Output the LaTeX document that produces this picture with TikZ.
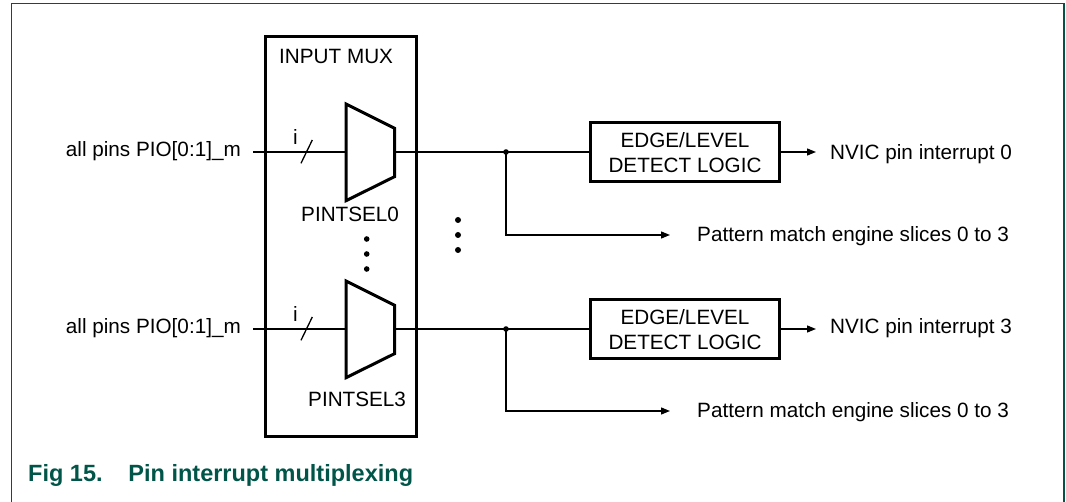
\documentclass[tikz,border=0pt]{standalone}
\usepackage{fontspec}
\setmainfont{Liberation Sans}
\usetikzlibrary{arrows.meta}
\definecolor{nxpgreen}{RGB}{0,85,72}
\tikzset{
  conn/.style={line width=1.3pt, draw=black},
  thick box/.style={line width=3pt, draw=black},
  edgebox/.style={draw=black, line width=3pt, minimum width=189pt, minimum height=59pt,
    inner sep=0pt, align=center, font=\fontsize{20.7}{25}\selectfont},
  lbl/.style={inner sep=0pt, font=\fontsize{20.7}{25}\selectfont},
  arr/.style={-{Triangle[length=9pt,width=7pt]}},
  dotb/.style={fill=black},
  frame/.style={draw=nxpgreen, line width=1.4pt},
}
\begin{document}
\begin{tikzpicture}[x=1pt,y=-1pt]
\useasboundingbox (0,0) rectangle (1066,502);
% frame
\draw[frame] (11.3,502) -- (11.3,3.3) -- (1064,3.3) -- (1064,502);
\node[lbl, anchor=base west, text=nxpgreen, font=\fontsize{23.5}{28}\selectfont\bfseries] (cap) at (28,482) {Fig 15.\hspace{1.1em}Pin interrupt multiplexing};

% input mux box
\draw[thick box] (265,37) rectangle (416,437);
\node[lbl, anchor=base west] (muxlbl) at (279,63.3) {INPUT MUX};

% mux 0
\draw[thick box, line join=miter] (346,104) coordinate (m0a) -- (394.5,128.3) -- (394.5,176.7) -- (346,200.7) -- cycle;
\coordinate (m0in) at (346,152);
\coordinate (m0out) at (394.5,152);
% mux 3
\draw[thick box, line join=miter] (346,281) coordinate (m3a) -- (394.5,305.3) -- (394.5,353.7) -- (346,377.7) -- cycle;
\coordinate (m3in) at (346,329);
\coordinate (m3out) at (394.5,329);

\node[lbl, anchor=base west] (ps0) at (301,222) {PINTSEL0};
\node[lbl, anchor=base west] (ps3) at (308,407) {PINTSEL3};

% inputs
\node[lbl, anchor=base east] (in0lbl) at (241,157) {all pins PIO[0:1]\_m};
\node[lbl, anchor=base east] (in3lbl) at (241,334) {all pins PIO[0:1]\_m};
\coordinate (in0) at (253,152);
\coordinate (in3) at (253,329);
\draw[conn] (in0) -- (m0in);
\draw[conn] (in3) -- (m3in);
\draw[conn] (301,163.3) -- (312.3,140);
\draw[conn] (301,340.3) -- (312.3,317);
\node[lbl, anchor=base] (i0) at (295.3,144.3) {i};
\node[lbl, anchor=base] (i3) at (295.3,321.3) {i};

% dots
\foreach \y in {239,254,269} \fill (366.7,\y) circle (2.8);
\foreach \y in {220,235,250} \fill (458,\y) circle (3);

% edge boxes
\node[edgebox] (e0) at (685,152.5) {EDGE/LEVEL\\DETECT LOGIC};
\node[edgebox] (e3) at (685,329.5) {EDGE/LEVEL\\DETECT LOGIC};

\coordinate (j0) at (506,152);
\coordinate (j3) at (506,329);
\draw[conn] (m0out) -- (e0.west |- m0out);
\draw[conn] (m3out) -- (e3.west |- m3out);
\fill (j0) circle (2.8);
\fill (j3) circle (2.8);

% outputs
\coordinate (nv0) at (816,152);
\coordinate (nv3) at (816,329);
\draw[conn, arr] (e0.east |- nv0) -- (nv0);
\draw[conn, arr] (e3.east |- nv3) -- (nv3);
\node[lbl, anchor=base west] (nvic0) at (830,160) {NVIC pin interrupt 0};
\node[lbl, anchor=base west] (nvic3) at (830,334) {NVIC pin interrupt 3};

\coordinate (p0) at (670,235);
\coordinate (p3) at (670,411);
\draw[conn, arr] (j0) |- (p0);
\draw[conn, arr] (j3) |- (p3);
\node[lbl, anchor=base west] (pat0) at (697,241.5) {Pattern match engine slices 0 to 3};
\node[lbl, anchor=base west] (pat3) at (697,417.5) {Pattern match engine slices 0 to 3};
\end{tikzpicture}
\end{document}
